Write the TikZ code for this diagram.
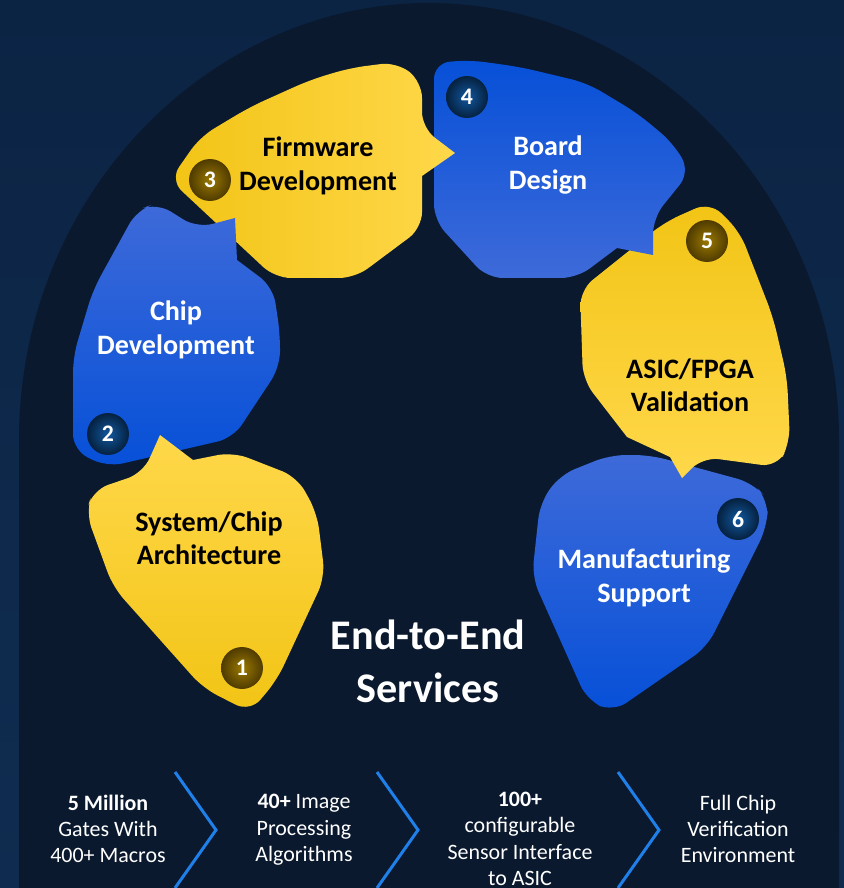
\documentclass[tikz,border=0pt]{standalone}
\usepackage{fontspec}
\setmainfont{Carlito}
\usepackage{tikz}
\usetikzlibrary{calc}

\definecolor{bgblue}{HTML}{0F2C50}
\definecolor{bgdeep}{HTML}{0C2444}
\definecolor{archnavy}{HTML}{0A192E}
\definecolor{sunlight}{HTML}{FFD84A}
\definecolor{sundeep}{HTML}{F2C415}
\definecolor{royallight}{HTML}{3E6AD9}
\definecolor{royaldeep}{HTML}{0650D8}
\definecolor{goldring}{HTML}{4F3B00}
\definecolor{goldcore}{HTML}{9A7800}
\definecolor{navyring}{HTML}{05213F}
\definecolor{navycore}{HTML}{11579F}
\definecolor{chevron}{HTML}{1F80EA}

\begin{document}
\begin{tikzpicture}[x=0.02cm, y=-0.02cm,
		petal/.style={rounded corners=9pt},
		petaltext/.style={align=center, font=\fontsize{16}{19}\selectfont\bfseries},
		darktext/.style={petaltext, text=black},
		lighttext/.style={petaltext, text=white},
		badge/.style={circle, inner sep=0pt, minimum size=0.84cm, text=white,
			font=\fontsize{13.5}{14}\selectfont\bfseries},
		goldbadge/.style={badge, inner color=goldcore, outer color=goldring},
		navybadge/.style={badge, inner color=navycore, outer color=navyring},
		fact/.style={align=center, text=white, font=\fontsize{12.5}{15}\selectfont},
		chev/.style={draw=chevron, line width=1.7pt}]

	% background and arch
	\fill[top color=bgdeep, bottom color=bgblue] (0,0) rectangle (844,888);
	\useasboundingbox (0,0) rectangle (844,888);
	\fill[archnavy] (19,888) -- (19,440) .. controls (19,195) and (210,3) .. (429,3)
		.. controls (648,3) and (839,195) .. (839,440) -- (839,888) -- cycle;

	% petals, drawn from 6 back to 1 so that each pointer lies on top
	\path[petal, top color=royallight, bottom color=royaldeep]
		(540,503) -- (560,475) -- (610,455) -- (650,455) -- (753,483) -- (768,500)
		-- (767,527) -- (707,647) -- (613,712) -- (587,700) -- (532,577) -- cycle;

	\path[petal, top color=sundeep, bottom color=sunlight]
		(627,437) -- (583,380) -- (580,290) -- (665,222) -- (710,202) -- (740,232)
		-- (773,317) -- (787,377) -- (790,443) -- (777,467) -- (703,457)
		[sharp corners] -- (682,478) -- (670,457) -- cycle;

	\path[petal, top color=royaldeep, bottom color=royallight]
		(617,248) -- (577,278) -- (487,278) -- (434,220) -- (434,63) -- (470,60)
		-- (520,67) -- (587,83) -- (637,113) -- (673,143) -- (690,172) -- (653,218)
		[sharp corners] -- (653,255) -- cycle;

	\path[petal, left color=sundeep, right color=sunlight]
		(422,176) -- (422,228) -- (355,278) -- (275,278) -- (170,180) -- (200,137)
		-- (250,107) -- (310,80) -- (350,68) -- (397,62) -- (422,82) -- (422,128)
		[sharp corners] -- (455,153) -- cycle;

	\path[petal, top color=royallight, bottom color=royaldeep]
		(237,260) -- (273,287) -- (280,333) -- (280,367) -- (233,438) -- (107,467)
		-- (73,450) -- (73,357) -- (93,290) -- (137,210) -- (157,203) -- (197,228)
		[sharp corners] -- (235,218) -- cycle;

	\path[petal, top color=sunlight, bottom color=sundeep]
		(193,460) -- (233,452) -- (297,477) -- (317,513) -- (325,577) -- (277,680)
		-- (250,712) -- (203,688) -- (113,587) -- (86,513) -- (93,490) -- (143,473)
		[sharp corners] -- (160,435) -- cycle;

	% texts
	\node[darktext] (sysarch) at (209,538) {System/Chip\\Architecture};
	\node[lighttext] (chipdev) at (176,330) {Chip\\Development};
	\node[darktext] (firmware) at (318,166) {Firmware\\Development};
	\node[lighttext] (board) at (548,165) {Board\\Design};
	\node[darktext] (validation) at (690,385) {ASIC/FPGA\\Validation};
	\node[lighttext] (manufacturing) at (644,578) {Manufacturing\\Support};

	\node[text=white, align=center, font=\fontsize{24}{30}\selectfont\bfseries]
		(services) at (428,661) {End-to-End\\Services};

	% numbers
	\node[goldbadge] (n1) at (242,668) {1};
	\node[navybadge] (n2) at (108,434) {2};
	\node[goldbadge] (n3) at (210,180) {3};
	\node[navybadge] (n4) at (467,97) {4};
	\node[goldbadge] (n5) at (707,241) {5};
	\node[navybadge] (n6) at (738,519) {6};

	% facts along the bottom
	\node[fact] (fact1) at (108,829) {\textbf{5 Million}\\Gates With\\400+ Macros};
	\node[fact] (fact2) at (304,830) {\textbf{40+} Image\\Processing\\Algorithms};
	\node[fact] (fact3) at (520,839) {\textbf{100+}\\configurable\\Sensor Interface\\to ASIC};
	\node[fact] (fact4) at (738,829) {Full Chip\\Verification\\Environment};

	\foreach \x in {175,377,618}
		\draw[chev] (\x,772) -- (\x+41,830) -- (\x,888);
\end{tikzpicture}
\end{document}
